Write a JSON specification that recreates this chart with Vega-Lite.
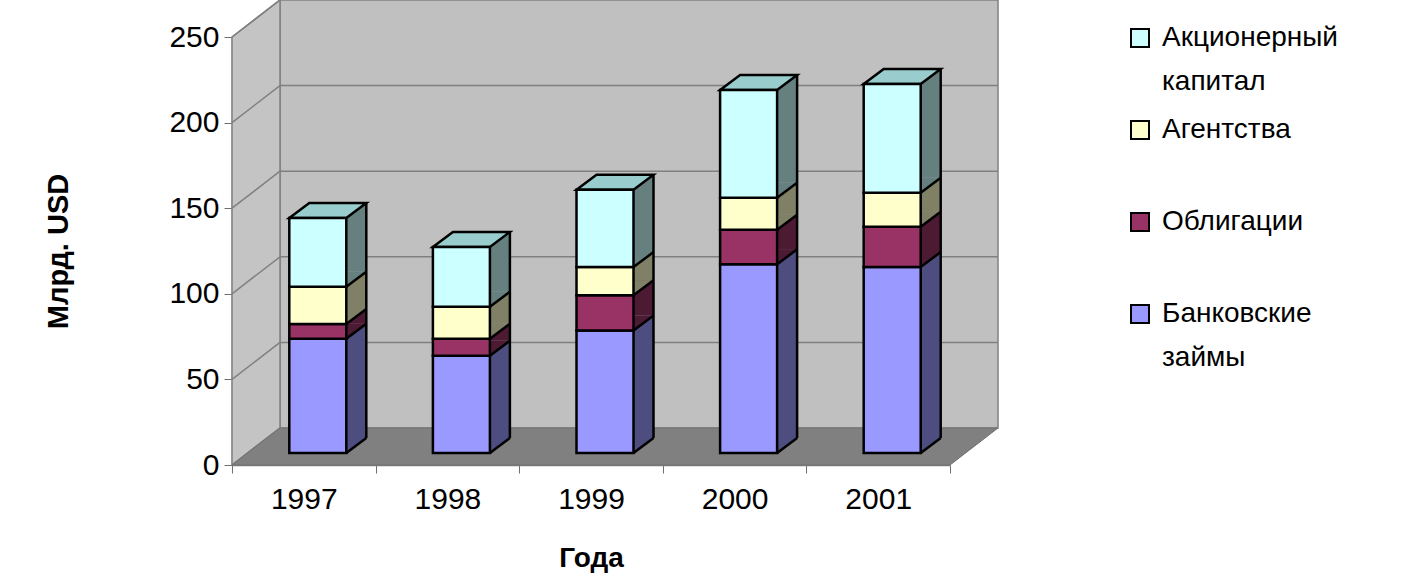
{
  "$schema": "https://vega.github.io/schema/vega-lite/v6.json",
  "description": "3D-style stacked bars: financing flows by year, bln USD",
  "width": 718,
  "height": 428,
  "autosize": {"type": "none"},
  "padding": {"left": 232, "top": 37, "right": 460, "bottom": 110},
  "background": "white",
  "config": {
    "view": {"stroke": null},
    "font": "Liberation Sans",
    "style": {"guide-label": {"lineHeight": 44}}
  },
  "datasets": {
    "flows": [
      {"year": "1997", "series": "Банковские займы", "value": 66.7},
      {"year": "1997", "series": "Облигации", "value": 8.6},
      {"year": "1997", "series": "Агентства", "value": 21.8},
      {"year": "1997", "series": "Акционерный капитал", "value": 40.1},
      {"year": "1998", "series": "Банковские займы", "value": 56.8},
      {"year": "1998", "series": "Облигации", "value": 9.9},
      {"year": "1998", "series": "Агентства", "value": 18.7},
      {"year": "1998", "series": "Акционерный капитал", "value": 35.0},
      {"year": "1999", "series": "Банковские займы", "value": 71.6},
      {"year": "1999", "series": "Облигации", "value": 20.5},
      {"year": "1999", "series": "Агентства", "value": 16.5},
      {"year": "1999", "series": "Акционерный капитал", "value": 45.2},
      {"year": "2000", "series": "Банковские займы", "value": 110.2},
      {"year": "2000", "series": "Облигации", "value": 20.2},
      {"year": "2000", "series": "Агентства", "value": 18.7},
      {"year": "2000", "series": "Акционерный капитал", "value": 63.0},
      {"year": "2001", "series": "Банковские займы", "value": 108.6},
      {"year": "2001", "series": "Облигации", "value": 23.5},
      {"year": "2001", "series": "Агентства", "value": 19.9},
      {"year": "2001", "series": "Акционерный капитал", "value": 63.6}
    ],
    "levels": [{"v": 0}, {"v": 50}, {"v": 100}, {"v": 150}, {"v": 200}, {"v": 250}]
  },
  "layer": [
    {
      "data": {"values": [{}]},
      "mark": {"type": "rect", "xOffset": 48, "x2Offset": 48, "yOffset": -37, "y2Offset": -37, "fill": "#c0c0c0", "stroke": "#808080", "strokeWidth": 1.5},
      "encoding": {
        "x": {"value": 0},
        "x2": {"value": "width"},
        "y": {
          "datum": 0,
          "type": "quantitative",
          "scale": {"domain": [0, 250], "nice": false},
          "axis": {
            "title": "Млрд. USD",
            "titleFontSize": 29,
            "titleFontWeight": "bold",
            "titleColor": "black",
            "titlePadding": 95,
            "labelFontSize": 30,
            "labelColor": "black",
            "labelPadding": 5,
            "tickSize": 8,
            "tickColor": "#707070",
            "domainColor": "#808080",
            "domainWidth": 1.5,
            "values": [0, 50, 100, 150, 200, 250],
            "grid": false
          }
        },
        "y2": {"datum": 250}
      }
    },
    {
      "data": {"name": "levels"},
      "transform": [{"filter": "datum.v > 0 && datum.v < 250"}],
      "mark": {"type": "rule", "xOffset": 48, "x2Offset": 48, "yOffset": -37, "stroke": "#808080", "strokeWidth": 1.5},
      "encoding": {
        "x": {"value": 0},
        "x2": {"value": "width"},
        "y": {"field": "v", "type": "quantitative", "scale": {"domain": [0, 250], "nice": false}}
      }
    },
    {
      "data": {"values": [{}]},
      "mark": {"type": "point", "shape": "M0,0L0.96,-0.74L0.96,-9.3L0,-8.56Z", "size": 10000, "filled": true, "fill": "#c4c4c4", "stroke": "#808080", "strokeWidth": 1.5, "opacity": 1},
      "encoding": {
        "x": {"value": 0},
        "y": {"datum": 0, "type": "quantitative", "scale": {"domain": [0, 250], "nice": false}}
      }
    },
    {
      "data": {"name": "levels"},
      "mark": {"type": "point", "shape": "M0,0L0.96,-0.74", "size": 10000, "filled": false, "stroke": "#808080", "strokeWidth": 1.5, "opacity": 1},
      "encoding": {
        "x": {"value": 0},
        "y": {"field": "v", "type": "quantitative", "scale": {"domain": [0, 250], "nice": false}}
      }
    },
    {
      "data": {"values": [{}]},
      "mark": {"type": "point", "shape": "M0,0L14.36,0L15.32,-0.74L0.96,-0.74Z", "size": 10000, "filled": true, "fill": "#808080", "stroke": "#707070", "strokeWidth": 1, "opacity": 1},
      "encoding": {
        "x": {"value": 0},
        "y": {"datum": 0, "type": "quantitative", "scale": {"domain": [0, 250], "nice": false}}
      }
    },
    {
      "data": {"name": "flows"},
      "transform": [
        {"calculate": "indexof(['Банковские займы', 'Облигации', 'Агентства', 'Акционерный капитал'], datum.series)", "as": "k"},
        {"stack": "value", "groupby": ["year"], "sort": [{"field": "k", "order": "ascending"}], "as": ["y0", "y1"]}
      ],
      "encoding": {
        "x": {
          "field": "year",
          "type": "ordinal",
          "scale": {"paddingInner": 0, "paddingOuter": 0},
          "axis": {
            "title": "Года",
            "titleFontSize": 28,
            "titleFontWeight": "bold",
            "titleColor": "black",
            "titlePadding": 30,
            "labelFontSize": 30,
            "labelColor": "black",
            "labelAngle": 0,
            "labelPadding": 11,
            "tickSize": 8,
            "tickColor": "#707070",
            "domainColor": "#808080",
            "domainWidth": 1.5,
            "tickBand": "extent",
            "grid": false
          }
        }
      },
      "layer": [
        {
          "mark": {"type": "bar", "width": 20, "xOffset": 52.5, "yOffset": -27, "y2Offset": -27, "strokeWidth": 0, "opacity": 1},
          "encoding": {
            "y": {"field": "y1", "type": "quantitative", "scale": {"domain": [0, 250], "nice": false}},
            "y2": {"field": "y0"},
            "fill": {
              "field": "series",
              "type": "nominal",
              "scale": {"domain": ["Банковские займы", "Облигации", "Агентства", "Акционерный капитал"], "range": ["#4d4d80", "#4d1a33", "#808066", "#668080"]},
              "legend": null
            }
          }
        },
        {
          "mark": {"type": "point", "shape": "M0,0L0,-0.3L0.4,-0.3Z", "size": 10000, "filled": true, "strokeWidth": 0, "opacity": 1, "xOffset": 42.5, "yOffset": -12},
          "encoding": {
            "y": {"field": "y0", "type": "quantitative", "scale": {"domain": [0, 250], "nice": false}},
            "fill": {
              "field": "series",
              "type": "nominal",
              "scale": {"domain": ["Банковские займы", "Облигации", "Агентства", "Акционерный капитал"], "range": ["#4d4d80", "#4d1a33", "#808066", "#668080"]},
              "legend": null
            }
          }
        },
        {
          "mark": {"type": "point", "shape": "M0,0L0.4,-0.3", "size": 10000, "filled": false, "stroke": "black", "strokeWidth": 2.5, "opacity": 1, "xOffset": 42.5, "yOffset": -12},
          "encoding": {
            "y": {"field": "y0", "type": "quantitative", "scale": {"domain": [0, 250], "nice": false}}
          }
        },
        {
          "transform": [{"filter": "datum.k == 3"}],
          "mark": {"type": "rule", "xOffset": 62.5, "yOffset": -27, "y2Offset": -27, "stroke": "black", "strokeWidth": 2.5},
          "encoding": {
            "y": {"field": "y1", "type": "quantitative", "scale": {"domain": [0, 250], "nice": false}},
            "y2": {"datum": 0}
          }
        },
        {
          "transform": [{"filter": "datum.k == 3"}],
          "mark": {"type": "point", "shape": "M0,0L1.14,0L1.54,-0.3L0.4,-0.3Z", "size": 10000, "filled": true, "fill": "#99cccc", "stroke": "black", "strokeWidth": 2.5, "opacity": 1, "xOffset": -14.5, "yOffset": -12},
          "encoding": {
            "y": {"field": "y1", "type": "quantitative", "scale": {"domain": [0, 250], "nice": false}}
          }
        },
        {
          "mark": {"type": "bar", "width": 57, "xOffset": 14, "yOffset": -12, "y2Offset": -12, "stroke": "black", "strokeWidth": 2.5, "opacity": 1},
          "encoding": {
            "y": {"field": "y1", "type": "quantitative", "scale": {"domain": [0, 250], "nice": false}},
            "y2": {"field": "y0"},
            "color": {
              "field": "series",
              "type": "nominal",
              "scale": {"domain": ["Акционерный капитал", "Агентства", "Облигации", "Банковские займы"], "range": ["#ccffff", "#ffffcc", "#993366", "#9999ff"]},
              "legend": {
                "title": null,
                "orient": "none",
                "legendX": 894,
                "legendY": -13,
                "gridAlign": "all",
                "symbolType": "square",
                "symbolSize": 324,
                "symbolStrokeColor": "black",
                "symbolStrokeWidth": 2,
                "symbolOpacity": 1,
                "labelFontSize": 28,
                "labelColor": "black",
                "labelOffset": 8,
                "labelLimit": 400,
                "labelExpr": "split(datum.label, ' ')",
                "rowPadding": 20
              }
            }
          }
        }
      ]
    }
  ]
}
